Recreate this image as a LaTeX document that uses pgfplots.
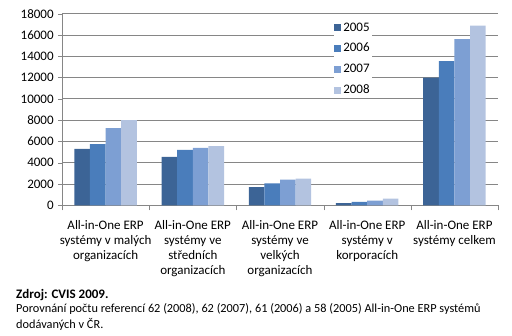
\documentclass[border=0pt]{standalone}
\usepackage{fontspec}
\setmainfont{Carlito}
\usepackage{pgfplots}
\pgfplotsset{compat=1.18}
\definecolor{cA}{HTML}{3C6496}
\definecolor{cB}{HTML}{4A7DBB}
\definecolor{cC}{HTML}{7D9FD3}
\definecolor{cD}{HTML}{B3C3E0}
\definecolor{gridc}{HTML}{868686}
\begin{document}
\fontsize{12.5pt}{15pt}\selectfont
\begin{tikzpicture}[x=1pt,y=1pt]
\useasboundingbox (0,0) rectangle (512,336);
\begin{axis}[
  at={(62pt,130.7pt)}, anchor=south west,
  scale only axis, width=436pt, height=191.6pt,
  ybar=0pt, bar width=0.179,
  xmin=-0.5, xmax=4.5, ymin=0, ymax=18000,
  ytick={0,2000,...,18000},
  xtick={0,1,2,3,4},
  minor xtick={-0.5,0.5,1.5,2.5,3.5,4.5},
  xticklabels={
    {All-in-One ERP\\systémy v malých\\organizacích},
    {All-in-One ERP\\systémy ve\\středních\\organizacích},
    {All-in-One ERP\\systémy ve\\velkých\\organizacích},
    {All-in-One ERP\\systémy v\\korporacích},
    {All-in-One ERP\\systémy celkem}},
  xticklabel style={align=center, font=\fontsize{13pt}{15pt}\selectfont, execute at begin node={\baselineskip=15pt}, yshift=-7pt},
  yticklabel style={font=\fontsize{13pt}{15pt}\selectfont},
  /pgf/number format/assume math mode=true,
  scaled y ticks=false,
  yticklabel={\pgfmathprintnumber[fixed,1000 sep={}]{\tick}},
  axis x line*=bottom, axis y line*=left,
  axis line style={draw=gridc,-},
  ymajorgrids, grid style={draw=gridc, line width=0.8pt},
  major x tick style={draw=none},
  minor x tick style={draw=gridc},
  minor tick length=5pt,
  major y tick style={draw=gridc},
  major tick length=4pt,
  tick align=outside,
  tick pos=left,
  legend style={draw=none, fill=white, inner sep=0pt, at={(rel axis cs:0.624,0.965)}, anchor=north west, row sep=6.3pt, font=\fontsize{13pt}{15pt}\selectfont, legend cell align=left},
  legend image code/.code={\fill[#1] (0pt,-3.5pt) rectangle (7pt,3.5pt);},
]
\addplot[fill=cA, draw=none] coordinates {(0,5300) (1,4550) (2,1700) (3,200) (4,12000)};
\addplot[fill=cB, draw=none] coordinates {(0,5750) (1,5200) (2,2050) (3,330) (4,13550)};
\addplot[fill=cC, draw=none] coordinates {(0,7250) (1,5400) (2,2400) (3,430) (4,15600)};
\addplot[fill=cD, draw=none] coordinates {(0,8000) (1,5550) (2,2500) (3,620) (4,16880)};
\legend{2005,2006,2007,2008}
\end{axis}
\node[anchor=base west, inner sep=0pt, font=\bfseries\fontsize{13pt}{15pt}\selectfont] at (16,37) {Zdroj: CVIS 2009.};
\node[anchor=base west, inner sep=0pt, font=\fontsize{12.3pt}{15pt}\selectfont] at (16,23.5) {Porovnání počtu referencí 62 (2008), 62 (2007), 61 (2006) a 58 (2005) All-in-One ERP systémů};
\node[anchor=base west, inner sep=0pt, font=\fontsize{12.3pt}{15pt}\selectfont] at (16,7) {dodávaných v ČR.};
\end{tikzpicture}
\end{document}
